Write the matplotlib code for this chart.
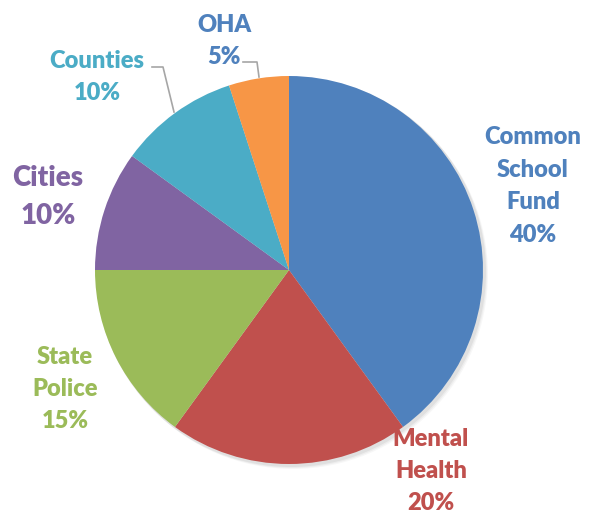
import matplotlib.pyplot as plt
from matplotlib.patches import Circle

# slice data, clockwise from 12 o'clock
labels = ["Common\nSchool\nFund", "Mental\nHealth", "State\nPolice", "Cities", "Counties", "OHA"]
shares = [40, 20, 15, 10, 10, 5]
colors = ["#4F81BD", "#C0504D", "#9BBB59", "#8064A2", "#4BACC6", "#F79646"]
text_colors = ["#4F81BD", "#C0504D", "#9BBB59", "#8064A2", "#4BACC6", "#4F81BD"]

# label placement (pixel coords, y measured from the top)
label_pos = [(533, 186), (431, 471), (65, 389), (48, 197), (97, 77), (224, 41)]
label_size = [17, 17, 17, 20, 17, 17]

W, H = 593, 514
fig = plt.figure(figsize=(W / 100, H / 100), dpi=100)
ax = fig.add_axes([0, 0, 1, 1])

cx, cy, r = 289, H - 270, 194

# soft shadow behind the pie
for i, a in enumerate([0.05, 0.04, 0.03]):
    ax.add_patch(Circle((cx + 2 + i, cy - 2 - i), r + 1, color="black", alpha=a, lw=0, zorder=0))

ax.pie(shares, colors=colors, startangle=90, counterclock=False,
       center=(cx, cy), radius=r, frame=True,
       wedgeprops=dict(linewidth=0))
ax.set_xlim(0, W)
ax.set_ylim(0, H)
ax.set_aspect("equal")
ax.axis("off")

for txt, pct, (x, y), col, fs in zip(labels, shares, label_pos, text_colors, label_size):
    ax.text(x, H - y, f"{txt}\n{pct}%", color=col, fontsize=fs, fontweight="heavy",
            family="Lato", ha="center", va="center", linespacing=1.58)

# leader lines
ax.plot([243, 257, 259], [H - 62, H - 62, H - 77], color="#A6A6A6", lw=1.2)
ax.plot([152, 163, 174], [H - 67, H - 67, H - 112], color="#A6A6A6", lw=1.2)

fig.savefig("out.png", dpi=100)
